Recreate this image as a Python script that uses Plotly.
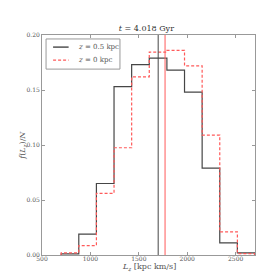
import plotly.graph_objects as go

# Data
bin_edges = [698, 880, 1062, 1244, 1426, 1608, 1790, 1972, 2154, 2336, 2518, 2700]
f_z05 = [0.001, 0.019, 0.065, 0.153, 0.173, 0.179, 0.168, 0.148, 0.079, 0.011, 0.002]
f_z0 = [0.002, 0.0086, 0.056, 0.0975, 0.162, 0.1845, 0.186, 0.172, 0.109, 0.021, 0.0013]
mean_z05 = 1700
mean_z0 = 1771
x_ticks = [500, 1000, 1500, 2000, 2500]
y_ticks = [0.0, 0.05, 0.10, 0.15, 0.20]
labels = ["<i>z</i> = 0.5 kpc", "<i>z</i> = 0 kpc"]

BLACK = "rgb(70,70,70)"
RED = "rgb(255,90,90)"
FONT = "DejaVu Serif"


def step_xy(edges, vals):
    xs = [edges[0], edges[0]] + list(edges[1:-1]) + [edges[-1], edges[-1]]
    ys = [0, vals[0]] + list(vals[1:]) + [vals[-1], 0]
    return xs, ys


fig = go.Figure()
x1, y1 = step_xy(bin_edges, f_z05)
fig.add_trace(go.Scatter(x=x1, y=y1, mode="lines", line_shape="hv",
                         line=dict(color=BLACK, width=1.2), name=labels[0],
                         showlegend=False))
x2, y2 = step_xy(bin_edges, f_z0)
fig.add_trace(go.Scatter(x=x2, y=y2, mode="lines", line_shape="hv",
                         line=dict(color=RED, width=1.2, dash="3px,2px"),
                         name=labels[1], showlegend=False))
fig.add_trace(go.Scatter(x=[mean_z05, mean_z05], y=[0, 0.2], mode="lines",
                         line=dict(color=BLACK, width=1), showlegend=False))
fig.add_trace(go.Scatter(x=[mean_z0, mean_z0], y=[0, 0.2], mode="lines",
                         line=dict(color=RED, width=1), showlegend=False))

axis_common = dict(showgrid=False, zeroline=False, showline=True, linecolor="#999",
                   linewidth=1, mirror="ticks", ticks="inside", ticklen=3,
                   tickcolor="#999", automargin=False,
                   tickfont=dict(family=FONT, size=6, color="#555"))

fig.update_xaxes(range=[500, 2700], tickvals=x_ticks, ticklabelstandoff=-2,
                 ticktext=[str(v) for v in x_ticks], **axis_common)
fig.update_yaxes(range=[0, 0.2], tickvals=y_ticks,
                 ticktext=["%.2f" % v for v in y_ticks], **axis_common)

# axis titles
fig.add_annotation(xref="x domain", yref="y domain", x=0.5, y=-0.055,
                   text="<i>L<sub>z</sub></i> [kpc km/s]", showarrow=False,
                   xanchor="center", yanchor="middle",
                   font=dict(family=FONT, size=8, color="#555"))
fig.add_annotation(xref="x domain", yref="y domain", x=-0.09, y=0.5,
                   text="<i>f</i>(<i>L<sub>z</sub></i>)/<i>N</i>", showarrow=False,
                   textangle=-90, xanchor="center", yanchor="middle",
                   font=dict(family=FONT, size=8, color="#555"))

# Custom compact legend
fig.add_shape(type="rect", xref="x domain", yref="y domain",
              x0=0.019, x1=0.366, y0=0.845, y1=0.982,
              line=dict(color="#999", width=1), fillcolor="white", layer="above")
legend_rows = [0.945, 0.886]
legend_styles = [dict(color=BLACK, width=1.4), dict(color=RED, width=1.2, dash="3px,2px")]
for lbl, yy, st in zip(labels, legend_rows, legend_styles):
    fig.add_shape(type="line", xref="x domain", yref="y domain",
                  x0=0.052, x1=0.125, y0=yy, y1=yy, line=st, layer="above")
    fig.add_annotation(xref="x domain", yref="y domain", x=0.158, y=yy,
                       text=lbl, showarrow=False, xanchor="left", yanchor="middle",
                       font=dict(family=FONT, size=7, color="#555"))

fig.update_layout(
    width=274, height=274,
    margin=dict(l=34, r=27, t=27, b=27, autoexpand=False),
    paper_bgcolor="white", plot_bgcolor="white",
    title=dict(text="<i>t</i> = 4.018 Gyr", x=0.505, xanchor="center",
               yref="container", y=0.925, yanchor="middle",
               font=dict(family=FONT, size=8, color="#333")),
    showlegend=False,
)

fig.write_html("out.html")
